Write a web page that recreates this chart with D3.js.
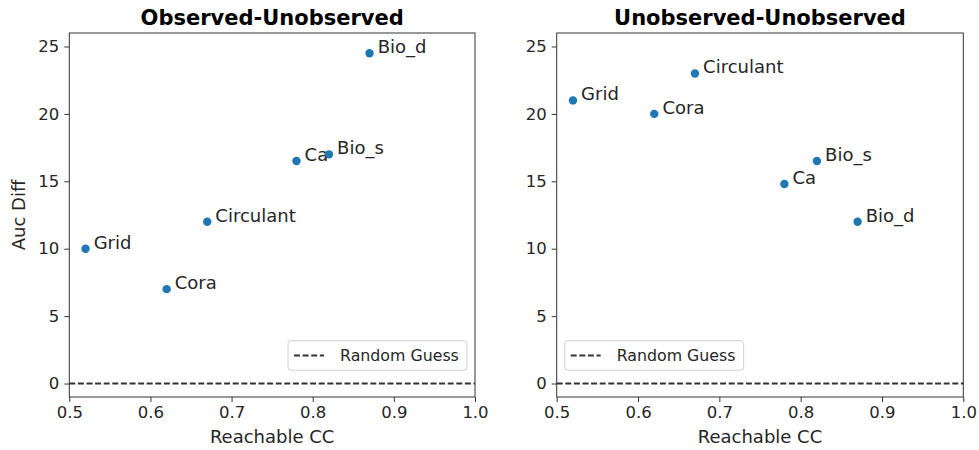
<!DOCTYPE html>
<html><head><meta charset="utf-8">
<script src="https://cdn.jsdelivr.net/npm/d3@7"></script>
<style>body{margin:0;background:#fff}svg{display:block}text{font-family:"DejaVu Sans",sans-serif;fill:#262626}</style>
</head><body><svg id="c" width="979" height="450"></svg>
<script>
const names = ["Grid","Cora","Circulant","Ca","Bio_s","Bio_d"];
const reachableCC = [0.52,0.62,0.67,0.78,0.82,0.87];
const obsUnobs = [10,7,12,16.5,17,24.5];
const unobsUnobs = [21,20,23,14.8,16.5,12];
const xTicks = [0.5,0.6,0.7,0.8,0.9,1.0];
const yTicks = [0,5,10,15,20,25];
const titles = ["Observed-Unobserved","Unobserved-Unobserved"];
const legendLabel = "Random Guess";
const randomGuess = 0;

const svg = d3.select("#c");
const panels = [
  {left:69.3, right:475, vals:obsUnobs, legendRight:true, ylabel:true},
  {left:556.7, right:963.3, vals:unobsUnobs, legendRight:false, ylabel:false}
];
const plotTop = 33, plotBottom = 397;

panels.forEach((p,i)=>{
  const x = d3.scaleLinear().domain([0.5,1.0]).range([p.left,p.right]);
  const y = d3.scaleLinear().domain([-1,26]).range([plotBottom,plotTop]);
  const g = svg.append("g");

  const xa = g.append("g").attr("transform",`translate(0,${plotBottom})`)
    .call(d3.axisBottom(x).tickValues(xTicks).tickFormat(d3.format(".1f")).tickSizeOuter(0).tickSize(5).tickPadding(4));
  xa.select(".domain").remove();
  xa.selectAll("line").attr("stroke","#333");
  xa.selectAll("text").attr("font-size","16.5px").attr("fill","#262626").attr("font-family","DejaVu Sans");
  const ya = g.append("g").attr("transform",`translate(${p.left},0)`)
    .call(d3.axisLeft(y).tickValues(yTicks).tickSizeOuter(0).tickSize(5).tickPadding(5));
  ya.select(".domain").remove();
  ya.selectAll("line").attr("stroke","#333");
  ya.selectAll("text").attr("font-size","16.5px").attr("fill","#262626").attr("font-family","DejaVu Sans");

  g.append("line").attr("x1",p.left).attr("x2",p.right).attr("y1",y(randomGuess)).attr("y2",y(randomGuess))
    .attr("stroke","#333").attr("stroke-width",2).attr("stroke-dasharray","6,2.6");

  g.append("rect").attr("x",p.left).attr("y",plotTop).attr("width",p.right-p.left).attr("height",plotBottom-plotTop)
    .attr("fill","none").attr("stroke","#333").attr("stroke-width",1);

  names.forEach((n,j)=>{
    g.append("circle").attr("cx",x(reachableCC[j])).attr("cy",y(p.vals[j])).attr("r",4.2).attr("fill","#1f77b4");
    g.append("text").attr("x",x(reachableCC[j]+0.01)).attr("y",y(p.vals[j])).attr("font-size","18px").text(n);
  });

  svg.append("text").attr("x",(p.left+p.right)/2).attr("y",25).attr("text-anchor","middle")
    .attr("font-size","21px").attr("font-weight","bold").style("fill","#000").text(titles[i]);
  svg.append("text").attr("x",(p.left+p.right)/2).attr("y",443).attr("text-anchor","middle")
    .attr("font-size","18px").text("Reachable CC");
  if(p.ylabel){
    svg.append("text").attr("transform",`translate(25,${(plotTop+plotBottom)/2}) rotate(-90)`).attr("text-anchor","middle")
      .attr("font-size","18px").text("Auc Diff");
  }

  const lw = 179, lh = 29.5;
  const lx = p.legendRight ? p.right-8-lw : p.left+8;
  const ly = 340.7;
  g.append("rect").attr("x",lx).attr("y",ly).attr("width",lw).attr("height",lh).attr("rx",3)
    .attr("fill","#fff").attr("fill-opacity",0.8).attr("stroke","#d0d0d0").attr("stroke-width",1);
  g.append("line").attr("x1",lx+6).attr("x2",lx+36).attr("y1",ly+lh/2).attr("y2",ly+lh/2)
    .attr("stroke","#333").attr("stroke-width",2).attr("stroke-dasharray","6,2.6");
  g.append("text").attr("x",lx+52).attr("y",ly+lh/2+5.5).attr("font-size","15.8px").text(legendLabel);
});
</script></body></html>
